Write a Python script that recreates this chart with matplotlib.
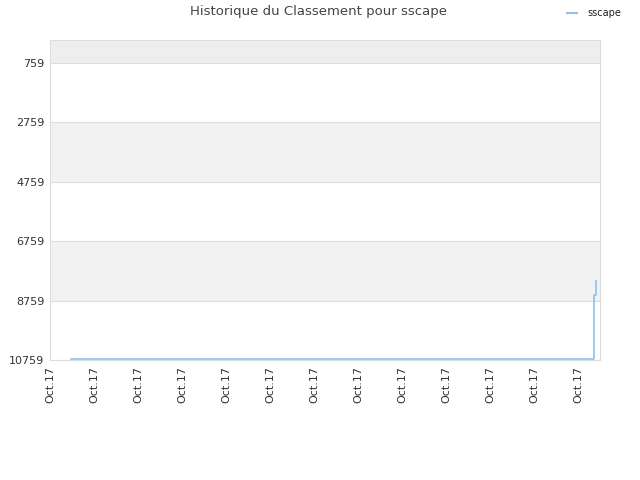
import matplotlib
matplotlib.use("Agg")
import matplotlib.pyplot as plt

# Data (x in tick-units along the date axis, y = rank)
x_pos = [0.48, 12.36, 12.40]
ranks = [10730, 8570, 8100]
tick_pos = list(range(13))
tick_labels = ["Oct.17"] * 13
y_ticks = [759, 2759, 4759, 6759, 8759, 10759]

fig = plt.figure(figsize=(6.4, 4.8), dpi=100)
ax = fig.add_axes([50/640, 120/480, 550/640, 320/480])

ymin, ymax = -15, 10759
ax.set_ylim(ymax, ymin)
ax.set_xlim(0, 12.5)

# alternating bands
ax.axhspan(ymin, 759, color="#eeeeee", zorder=0, lw=0)
ax.axhspan(2759, 4759, color="#f2f2f2", zorder=0, lw=0)
ax.axhspan(6759, 8759, color="#f2f2f2", zorder=0, lw=0)
for yt in y_ticks:
    ax.axhline(yt, color="#dddddd", lw=0.8, zorder=1)

ax.plot(x_pos, ranks, drawstyle="steps-post", color="#90bff0", lw=1.2, zorder=3)

ax.set_yticks(y_ticks)
ax.set_yticklabels([str(v) for v in y_ticks], fontsize=8, color="#333333")
ax.set_xticks(tick_pos)
ax.set_xticklabels(tick_labels, rotation=90, fontsize=8, color="#333333")
ax.tick_params(length=0, pad=4)
for s in ax.spines.values():
    s.set_color("#dddddd")

fig.text(318/640, 1 - 12/480, "Historique du Classement pour sscape",
         ha="center", va="center", fontsize=9.5, color="#444444")
fig.lines.append(plt.Line2D([567/640, 577/640], [1 - 13/480, 1 - 13/480],
                            transform=fig.transFigure, color="#90bff0", lw=1.5))
fig.text(587/640, 1 - 13/480, "sscape", ha="left", va="center",
         fontsize=7, color="#222222")

fig.savefig("out.png", dpi=100)
